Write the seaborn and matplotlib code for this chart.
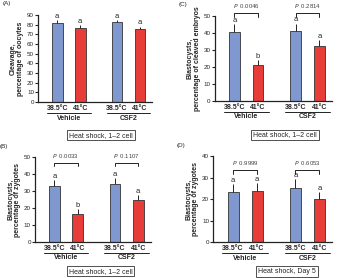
import matplotlib
matplotlib.use('Agg')
import matplotlib.pyplot as plt
import matplotlib.transforms as mtransforms
import seaborn as sns
import pandas as pd

sns.set_style('ticks')
plt.rcParams['font.family'] = ['Liberation Sans', 'DejaVu Sans']

# data
temps = ['38.5°C', '41°C', '38.5°C', '41°C']
groups = ['Vehicle', 'CSF2']
bar_x = [0, 1, 2.6, 3.6]

cleav_oocytes = [82, 77, 83, 75.5]
cleav_err = [2.5, 2.5, 2, 2.5]
cleav_letters = ['a', 'a', 'a', 'a']

blast_zyg_12 = [33, 16.5, 34, 24.5]
blast_zyg_12_err = [3.5, 3, 3.5, 3]
blast_zyg_12_letters = ['a', 'b', 'a', 'a']
blast_zyg_12_p = ['0.0033', '0.1107']

blast_cleav = [40.5, 21, 41, 32.5]
blast_cleav_err = [4.5, 3, 4.5, 3.5]
blast_cleav_letters = ['a', 'b', 'a', 'a']
blast_cleav_p = ['0.0046', '0.2814']

blast_zyg_d5 = [23.5, 24, 25, 20]
blast_zyg_d5_err = [3.5, 3.5, 4.5, 3.5]
blast_zyg_d5_letters = ['a', 'a', 'a', 'a']
blast_zyg_d5_p = ['0.9999', '0.6053']

blue = '#7f98d0'
red = '#e83c38'

fig = plt.figure(figsize=(3.5, 2.78), dpi=100)


def panel(rect, vals, errs, letters, ymax, ylabel, tag, box_text, box_x, box_y,
          pvals=None, p_y=None):
    ax = fig.add_axes(rect)
    df = pd.DataFrame({'x': bar_x, 'y': vals, 'c': ['b', 'r', 'b', 'r']})
    sns.barplot(data=df, x='x', y='y', hue='c', native_scale=True,
                palette={'b': blue, 'r': red}, width=0.46, saturation=1,
                edgecolor='#333333', linewidth=0.6, legend=False, ax=ax)
    ax.errorbar(bar_x, vals, yerr=[[0] * 4, errs], fmt='none',
                ecolor='#222222', elinewidth=0.7, capsize=0)
    for xi, v, e, l in zip(bar_x, vals, errs, letters):
        ax.text(xi, v + e + ymax * 0.025, l, ha='center', va='baseline', fontsize=5.5)
    ax.set_xlim(-0.83, 4.13)
    ax.set_ylim(0, ymax)
    ax.set_yticks(range(0, ymax + 1, 10))
    ax.set_xticks(bar_x)
    ax.set_xticklabels(temps, fontsize=5, fontweight='bold')
    ax.tick_params(axis='x', length=0, pad=2)
    ax.tick_params(axis='y', labelsize=4.5, length=2, width=0.8, pad=1)
    ax.set_xlabel('')
    ax.set_ylabel(ylabel, fontsize=5, fontweight='bold', labelpad=2, linespacing=1.0)
    for s in ['left', 'bottom']:
        ax.spines[s].set_linewidth(0.9)
        ax.spines[s].set_color('#222222')
    sns.despine(ax=ax)

    trans = mtransforms.blended_transform_factory(ax.transData, ax.transAxes)
    for gi, g in enumerate(groups):
        x0, x1 = bar_x[2 * gi], bar_x[2 * gi + 1]
        ax.plot([x0 - 0.45, x1 + 0.45], [-0.13, -0.13], transform=trans,
                color='#222222', lw=0.7, clip_on=False)
        ax.text((x0 + x1) / 2, -0.145, g, transform=trans, ha='center', va='top',
                fontsize=5, fontweight='bold')
    ax.text(box_x, box_y, box_text, transform=ax.transAxes, ha='center', va='center',
            fontsize=5, bbox=dict(boxstyle='square,pad=0.25', fc='white',
                                  ec='#333333', lw=0.6))
    ax.text(-0.31, 1.13, tag, transform=ax.transAxes, fontsize=4.5, va='center')

    if pvals is not None:
        for gi, p in enumerate(pvals):
            x0, x1 = bar_x[2 * gi], bar_x[2 * gi + 1]
            ax.plot([x0, x0, x1, x1], [p_y - ymax * 0.04, p_y, p_y, p_y - ymax * 0.04],
                    color='#222222', lw=0.7, clip_on=False)
            ax.text((x0 + x1) / 2, p_y + ymax * 0.04, '$P$  ' + p, ha='center',
                    va='bottom', fontsize=4.3, color='#444444')
    return ax


panel([0.109, 0.633, 0.326, 0.313], cleav_oocytes, cleav_err, cleav_letters, 90,
      'Cleavage,\npercentage of oocytes', '(A)', 'Heat shock, 1–2 cell', 0.55, -0.38)
panel([0.614, 0.637, 0.334, 0.306], blast_cleav, blast_cleav_err, blast_cleav_letters, 50,
      'Blastocysts,\npercentage of cleaved embryos', '(C)', 'Heat shock, 1–2 cell', 0.6, -0.4,
      blast_cleav_p, 51.5)
panel([0.100, 0.129, 0.330, 0.306], blast_zyg_12, blast_zyg_12_err, blast_zyg_12_letters, 50,
      'Blastocysts,\npercentage of zygotes', '(B)', 'Heat shock, 1–2 cell', 0.57, -0.34,
      blast_zyg_12_p, 46.5)
panel([0.609, 0.129, 0.340, 0.309], blast_zyg_d5, blast_zyg_d5_err, blast_zyg_d5_letters, 40,
      'Blastocysts,\npercentage of zygotes', '(D)', 'Heat shock, Day 5', 0.62, -0.34,
      blast_zyg_d5_p, 33.5)

fig.savefig('out.png', dpi=100)
